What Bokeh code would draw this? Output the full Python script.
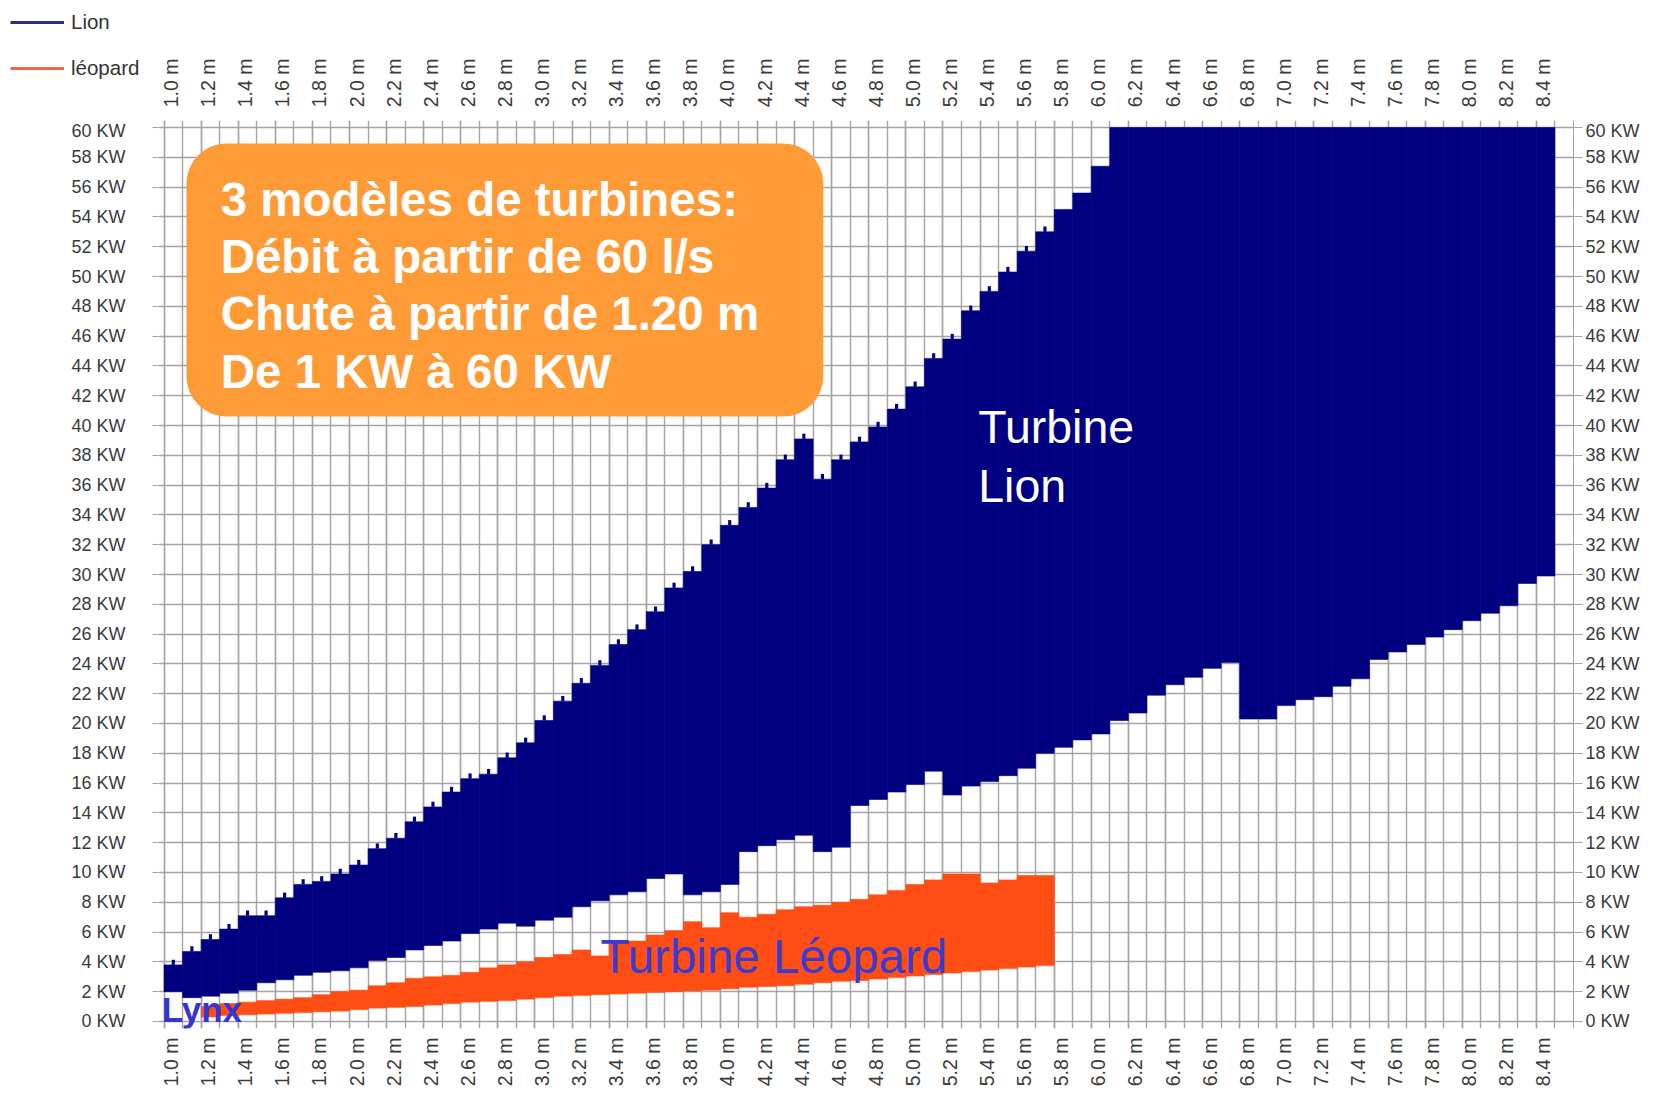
from math import pi
from bokeh.plotting import figure
from bokeh.layouts import column, row
from bokeh.models import (Range1d, LinearAxis, FixedTicker, Legend, LegendItem,
                          BoxAnnotation, Label, Grid)
from bokeh.embed import file_html
from bokeh.resources import INLINE

# ---------------- data ----------------
# Lion turbine: power range per head column (m), KW
lion_head = [1.0, 1.1, 1.2, 1.3, 1.4, 1.5, 1.6, 1.7, 1.8, 1.9,
             2.0, 2.1, 2.2, 2.3, 2.4, 2.5, 2.6, 2.7, 2.8, 2.9,
             3.0, 3.1, 3.2, 3.3, 3.4, 3.5, 3.6, 3.7, 3.8, 3.9,
             4.0, 4.1, 4.2, 4.3, 4.4, 4.5, 4.6, 4.7, 4.8, 4.9,
             5.0, 5.1, 5.2, 5.3, 5.4, 5.5, 5.6, 5.7, 5.8, 5.9,
             6.0, 6.1, 6.2, 6.3, 6.4, 6.5, 6.6, 6.7, 6.8, 6.9,
             7.0, 7.1, 7.2, 7.3, 7.4, 7.5, 7.6, 7.7, 7.8, 7.9,
             8.0, 8.1, 8.2, 8.3, 8.4]
lion_max = [3.8, 4.7, 5.5, 6.2, 7.1, 7.1, 8.3, 9.2, 9.4, 9.9,
            10.5, 11.6, 12.3, 13.4, 14.4, 15.4, 16.3, 16.6, 17.7, 18.7,
            20.2, 21.5, 22.7, 23.9, 25.3, 26.3, 27.5, 29.1, 30.2, 32.0,
            33.3, 34.5, 35.8, 37.7, 39.1, 36.4, 37.7, 38.9, 39.9, 41.1,
            42.6, 44.5, 45.8, 47.7, 49.0, 50.3, 51.7, 53.0, 54.5, 55.6,
            57.4, 60, 60, 60, 60, 60, 60, 60, 60, 60,
            60, 60, 60, 60, 60, 60, 60, 60, 60, 60,
            60, 60, 60, 60, 60]
lion_min = [2.0, 1.6, 1.7, 1.9, 2.1, 2.6, 2.8, 3.1, 3.3, 3.4,
            3.6, 4.1, 4.3, 4.8, 5.1, 5.4, 5.9, 6.2, 6.6, 6.4,
            6.8, 7.0, 7.7, 8.1, 8.5, 8.7, 9.6, 9.9, 8.5, 8.7,
            9.2, 11.4, 11.8, 12.2, 12.5, 11.4, 11.7, 14.5, 14.9, 15.4,
            15.9, 16.8, 15.2, 15.8, 16.1, 16.5, 17.0, 18.0, 18.4, 18.9,
            19.3, 20.2, 20.7, 21.9, 22.6, 23.1, 23.7, 24.1, 20.3, 20.3,
            21.2, 21.6, 21.8, 22.5, 23.0, 24.3, 24.8, 25.3, 25.8, 26.3,
            26.9, 27.4, 27.9, 29.4, 29.9]

# Léopard turbine
leo_head = [1.2, 1.3, 1.4, 1.5, 1.6, 1.7, 1.8, 1.9,
            2.0, 2.1, 2.2, 2.3, 2.4, 2.5, 2.6, 2.7, 2.8, 2.9,
            3.0, 3.1, 3.2, 3.3, 3.4, 3.5, 3.6, 3.7, 3.8, 3.9,
            4.0, 4.1, 4.2, 4.3, 4.4, 4.5, 4.6, 4.7, 4.8, 4.9,
            5.0, 5.1, 5.2, 5.3, 5.4, 5.5, 5.6, 5.7]
leo_max = [1.0, 1.2, 1.3, 1.4, 1.5, 1.6, 1.8, 2.0,
           2.1, 2.4, 2.6, 2.9, 3.0, 3.1, 3.3, 3.6, 3.8, 4.0,
           4.3, 4.5, 4.8, 4.4, 5.3, 5.4, 5.8, 6.1, 6.7, 6.3,
           7.3, 7.0, 7.2, 7.5, 7.7, 7.8, 8.0, 8.2, 8.5, 8.8,
           9.2, 9.5, 9.9, 9.9, 9.3, 9.5, 9.8, 9.8]
leo_min = [0.3, 0.4, 0.45, 0.5, 0.55, 0.6, 0.65, 0.7,
           0.8, 0.9, 0.95, 1.0, 1.1, 1.2, 1.3, 1.35, 1.4, 1.5,
           1.6, 1.7, 1.75, 1.8, 1.85, 1.9, 1.95, 2.0, 2.05, 2.1,
           2.2, 2.3, 2.35, 2.4, 2.5, 2.6, 2.7, 2.75, 2.85, 2.95,
           3.05, 3.15, 3.25, 3.35, 3.45, 3.55, 3.65, 3.75]

x_ticks = [1.0, 1.2, 1.4, 1.6, 1.8, 2.0, 2.2, 2.4, 2.6, 2.8, 3.0, 3.2, 3.4,
           3.6, 3.8, 4.0, 4.2, 4.4, 4.6, 4.8, 5.0, 5.2, 5.4, 5.6, 5.8, 6.0,
           6.2, 6.4, 6.6, 6.8, 7.0, 7.2, 7.4, 7.6, 7.8, 8.0, 8.2, 8.4]
x_tick_labels = ["1.0 m", "1.2 m", "1.4 m", "1.6 m", "1.8 m", "2.0 m", "2.2 m",
                 "2.4 m", "2.6 m", "2.8 m", "3.0 m", "3.2 m", "3.4 m", "3.6 m",
                 "3.8 m", "4.0 m", "4.2 m", "4.4 m", "4.6 m", "4.8 m", "5.0 m",
                 "5.2 m", "5.4 m", "5.6 m", "5.8 m", "6.0 m", "6.2 m", "6.4 m",
                 "6.6 m", "6.8 m", "7.0 m", "7.2 m", "7.4 m", "7.6 m", "7.8 m",
                 "8.0 m", "8.2 m", "8.4 m"]
x_minor = lion_head + [8.5]
y_ticks = [0, 2, 4, 6, 8, 10, 12, 14, 16, 18, 20, 22, 24, 26, 28, 30,
           32, 34, 36, 38, 40, 42, 44, 46, 48, 50, 52, 54, 56, 58, 60]
y_tick_labels = ["0 KW", "2 KW", "4 KW", "6 KW", "8 KW", "10 KW", "12 KW",
                 "14 KW", "16 KW", "18 KW", "20 KW", "22 KW", "24 KW", "26 KW",
                 "28 KW", "30 KW", "32 KW", "34 KW", "36 KW", "38 KW", "40 KW",
                 "42 KW", "44 KW", "46 KW", "48 KW", "50 KW", "52 KW", "54 KW",
                 "56 KW", "58 KW", "60 KW"]

# ---------------- layout constants ----------------
COL_W = 0.1
LABEL_SHIFT = 0.038     # rotated tick labels sit just right of their tick
NAVY = "#000080"
ORANGE = "#FF4D14"
GRID = "#a4a4a4"
TXT = "#3a3a3a"
FONT = "Liberation Sans"

W, H = 1665, 1095
TOP_H = 120               # strip holding legend + top tick labels
TOP_FRAME_H = 80          # frame of that strip (legend must fit in it)
LEFT_B, RIGHT_B, BOTTOM_B = 158, 92, 67
LEG_W = 150
X0, X1 = 0.97, 8.6
PXM = (W - LEFT_B - RIGHT_B) / (X1 - X0)

x_over = dict(zip(x_ticks, x_tick_labels))
y_over = dict(zip(y_ticks, y_tick_labels))
grid_xticker = FixedTicker(ticks=x_ticks, minor_ticks=x_minor)
yticker = FixedTicker(ticks=y_ticks, minor_ticks=[])


def make_x_axis(standoff, range_name):
    ax = LinearAxis(x_range_name=range_name,
                    ticker=FixedTicker(ticks=x_ticks, minor_ticks=[]))
    ax.major_label_overrides = x_over
    ax.major_label_orientation = pi / 2
    ax.axis_line_color = None
    ax.major_tick_line_color = None
    ax.minor_tick_line_color = None
    ax.major_tick_out = 0
    ax.major_tick_in = 0
    ax.major_label_standoff = standoff
    ax.major_label_text_font = FONT
    ax.major_label_text_font_size = "19.5px"
    ax.major_label_text_color = TXT
    return ax


def make_y_axis(line, tick_out, standoff):
    ax = LinearAxis(ticker=yticker)
    ax.major_label_overrides = y_over
    ax.axis_line_color = GRID if line else None
    ax.major_tick_in = 0
    ax.major_tick_out = tick_out
    ax.minor_tick_line_color = None
    ax.major_tick_line_color = GRID
    ax.major_label_standoff = standoff
    ax.major_label_text_font = FONT
    ax.major_label_text_font_size = "18px"
    ax.major_label_text_color = TXT
    return ax


# ---------------- legend strip (top-left) ----------------
leg_fig = figure(width=LEG_W, height=TOP_H, x_range=Range1d(-2, -1),
                 y_range=Range1d(-2, -1), x_axis_location=None,
                 y_axis_location=None, output_backend="svg",
                 toolbar_location=None, min_border_left=0, min_border_right=0,
                 min_border_top=0, min_border_bottom=TOP_H - TOP_FRAME_H)
leg_fig.center = []
leg_fig.outline_line_color = None
# series proxies (out of this strip's view) that give the legend its lines
r_lion = leg_fig.line(x=lion_head, y=lion_max, line_color="#2f2f7a", line_width=3)
r_leo = leg_fig.line(x=leo_head, y=leo_max, line_color="#ea6a48", line_width=3)
legend = Legend(items=[LegendItem(label="Lion", renderers=[r_lion]),
                       LegendItem(label="léopard", renderers=[r_leo])],
                location="top_left", orientation="vertical",
                glyph_width=54, glyph_height=24, label_height=24,
                spacing=22, padding=4, margin=10, label_standoff=7,
                border_line_color=None, background_fill_alpha=0,
                label_text_font=FONT, label_text_font_size="20.5px",
                label_text_color="#333333")
leg_fig.add_layout(legend)

# ---------------- top tick-label strip ----------------
top_fig = figure(width=W - LEG_W, height=TOP_H,
                 x_range=Range1d(X0 - (LEFT_B - LEG_W) / PXM - LABEL_SHIFT,
                                 X0 + (W - LEFT_B) / PXM - LABEL_SHIFT),
                 y_range=Range1d(0, 1), x_axis_location=None,
                 y_axis_location=None, output_backend="svg",
                 toolbar_location=None, min_border_left=0, min_border_right=0,
                 min_border_top=0, min_border_bottom=TOP_H - TOP_FRAME_H)
top_fig.center = []
top_fig.outline_line_color = None
top_fig.add_layout(make_x_axis(58 - TOP_FRAME_H, "default"), "below")

# ---------------- main chart ----------------
p = figure(width=W, height=H - TOP_H,
           x_range=Range1d(X0, X1), y_range=Range1d(-0.47, 60.47),
           x_axis_location=None, y_axis_location=None,
           output_backend="svg", toolbar_location=None,
           min_border_left=LEFT_B, min_border_right=RIGHT_B,
           min_border_top=0, min_border_bottom=BOTTOM_B)
p.center = []
p.outline_line_color = None
p.background_fill_color = "white"
p.extra_x_ranges = {"lab": Range1d(X0 - LABEL_SHIFT, X1 - LABEL_SHIFT)}

p.add_layout(Grid(dimension=0, ticker=grid_xticker,
                  grid_line_color=GRID, grid_line_width=1.4,
                  minor_grid_line_color=GRID, minor_grid_line_width=1.4))
p.add_layout(Grid(dimension=1, ticker=yticker,
                  grid_line_color=GRID, grid_line_width=1.4))

p.add_layout(make_x_axis(9, "lab"), "below")
p.add_layout(make_y_axis(False, 6, 27), "left")
p.add_layout(make_y_axis(True, 9, 3), "right")

# bands
p.quad(left=lion_head, right=[h + COL_W for h in lion_head],
       bottom=lion_min, top=lion_max,
       fill_color=NAVY, line_color=NAVY, line_width=0.6)
notch_x = [h + COL_W / 2 for h in lion_head if h <= 5.7]
notch_b = [t for h, t in zip(lion_head, lion_max) if h <= 5.7]
p.vbar(x=notch_x, width=0.017, bottom=notch_b,
       top=[t + 0.35 for t in notch_b], fill_color=NAVY, line_color=None)

p.quad(left=leo_head, right=[h + COL_W for h in leo_head],
       bottom=leo_min, top=leo_max,
       fill_color=ORANGE, line_color=ORANGE, line_width=0.6)

# annotations
box = BoxAnnotation(left=1.121, right=4.555, bottom=40.6, top=58.93,
                    fill_color="#FF9B37", fill_alpha=1.0, line_color=None,
                    border_radius=40)
p.add_layout(box)

box_lines = ["3 modèles de turbines:", "Débit à partir de 60 l/s",
             "Chute à partir de 1.20 m", "De 1 KW à 60 KW"]
box_y = [55.2, 51.35, 47.5, 43.65]
for t, yy in zip(box_lines, box_y):
    p.add_layout(Label(x=1.305, y=yy, text=t, text_font=FONT,
                       text_font_style="bold", text_font_size="47.5px",
                       text_color="white", text_baseline="middle"))

p.add_layout(Label(x=5.39, y=39.87, text="Turbine", text_font=FONT,
                   text_font_size="46.5px", text_color="white",
                   text_baseline="middle"))
p.add_layout(Label(x=5.39, y=35.97, text="Lion", text_font=FONT,
                   text_font_size="46.5px", text_color="white",
                   text_baseline="middle"))
p.add_layout(Label(x=3.353, y=4.36, text="Turbine Léopard", text_font=FONT,
                   text_font_size="47.5px", text_color="#3a3ccf",
                   text_baseline="middle"))
p.add_layout(Label(x=0.987, y=0.8, text="Lynx", text_font=FONT,
                   text_font_style="bold", text_font_size="35px",
                   text_color="#3535d0", text_baseline="middle"))

page = column(row(leg_fig, top_fig, spacing=0), p, spacing=0)
open("out.html", "w").write(file_html(page, INLINE))
